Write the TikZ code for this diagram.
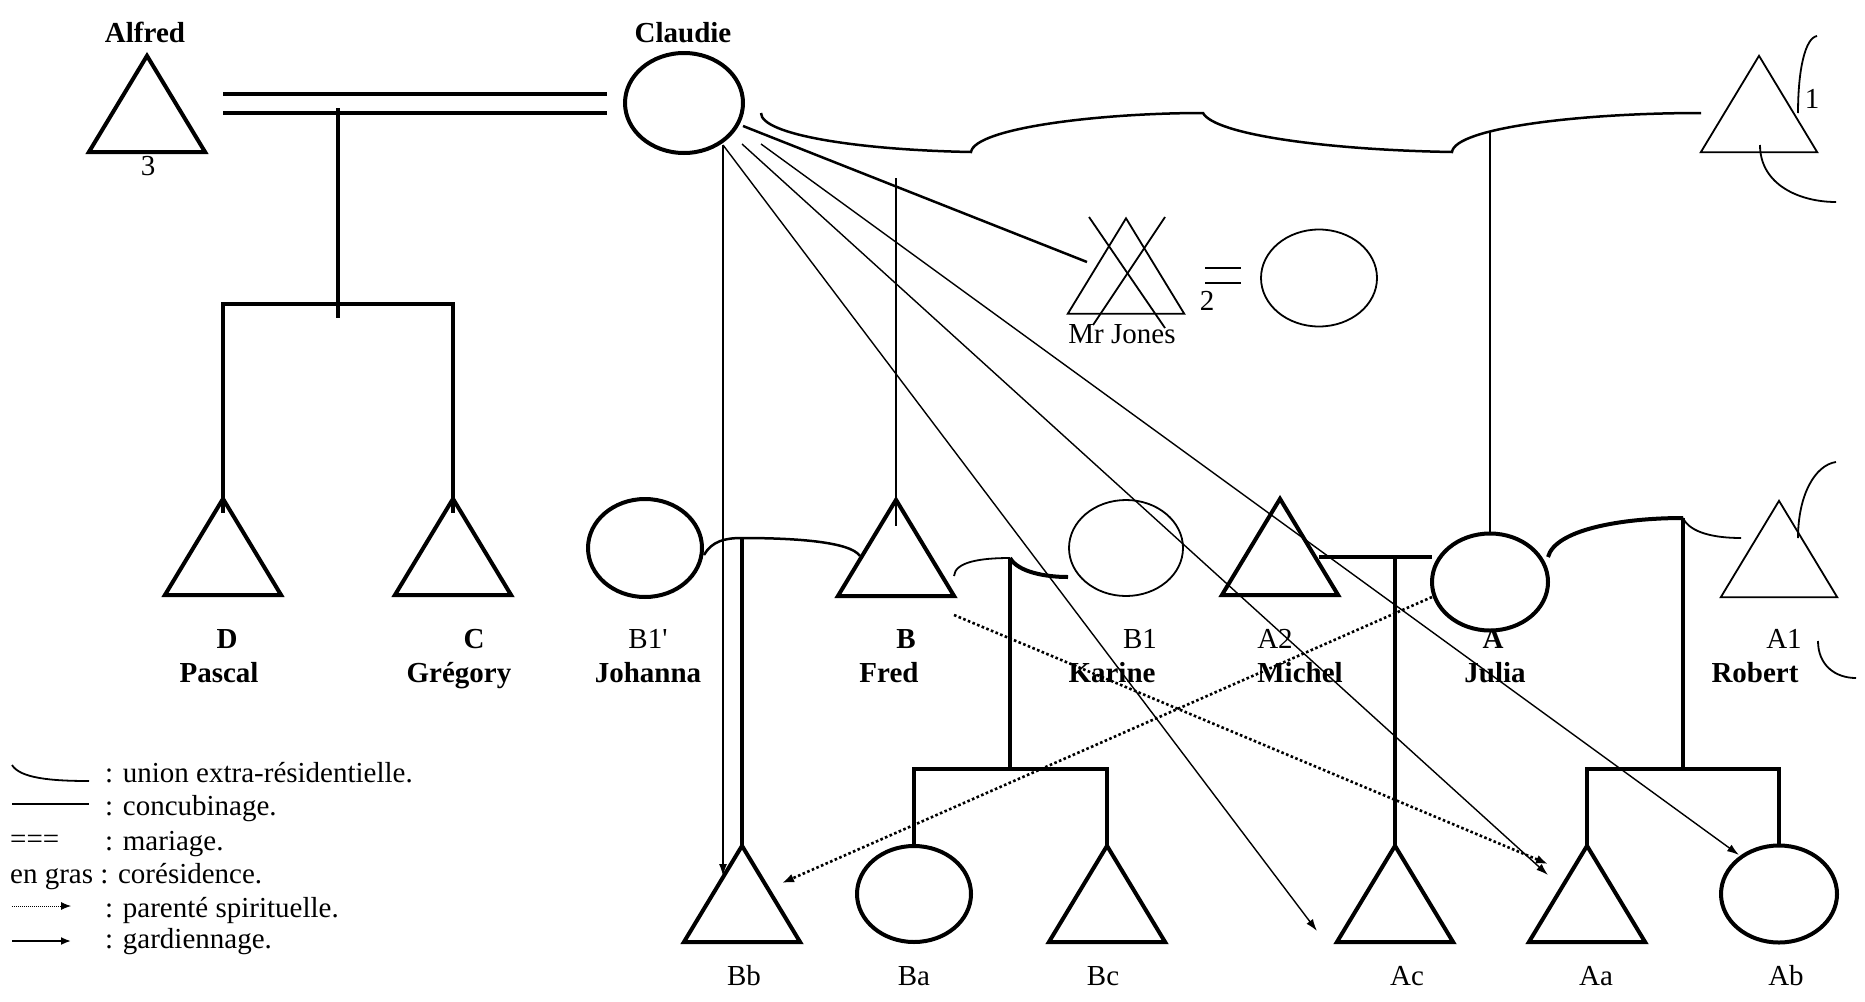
\documentclass[tikz,border=0pt]{standalone}
\usepackage{fontspec}
\setmainfont{Liberation Serif}
\usetikzlibrary{arrows.meta,shapes.geometric,calc}
\newcommand\mytri[2][thickln]{\draw[#1] (#2.north) -- (#2.south west) -- (#2.south east) -- cycle;}
\begin{document}
\begin{tikzpicture}[x=1pt,y=-1pt,line join=miter,
  thickln/.style={line width=4pt},
  thinln/.style={line width=1.8pt},
  medln/.style={line width=2.5pt},
  fineln/.style={line width=1.4pt},
  person/.style={ellipse, minimum width=116pt, minimum height=97pt, inner sep=0pt},
  tri/.style={rectangle, minimum width=116pt, minimum height=96pt, inner sep=0pt},
  lbl/.style={font=\fontsize{29}{34}\selectfont, anchor=base, inner sep=0pt},
  blbl/.style={font=\fontsize{29}{34}\selectfont\bfseries, anchor=base, inner sep=0pt},
  leg/.style={font=\fontsize{29}{34}\selectfont, anchor=base west, inner sep=0pt},
  garde/.style={fineln, -{Latex[length=12pt,width=8pt]}},
  spirit/.style={line width=2.6pt, dash pattern=on 2.6pt off 2.4pt, -{Latex[length=12pt,width=9pt]}},
]
\useasboundingbox (0,0) rectangle (1865,1001);

% ---------- top generation ----------
\node[tri] (alfred) at (147,104) {}; \mytri{alfred}
\node[blbl] (tAlfred) at (145,42) {Alfred};
\node[lbl] (t3) at (148,175) {3};
\node[person, draw, thickln, minimum width=118pt, minimum height=100pt] (claudie) at (684,103) {};
\node[blbl] (tClaudie) at (683,42) {Claudie};

\coordinate (mL1) at (223,94);  \coordinate (mR1) at (607,94);
\coordinate (mL2) at (223,113); \coordinate (mR2) at (607,113);
\draw[thickln] (mL1) -- (mR1);
\draw[thickln] (mL2) -- (mR2);
\coordinate (mTop) at (338,108); \coordinate (brDC) at (338,304); \coordinate (mBot) at (338,318);
\draw[thickln] (mTop) -- (mBot);

\node[tri] (D) at (223,547) {}; \mytri{D}
\node[tri] (C) at (453,547) {}; \mytri{C}
\draw[thickln] ($(D.north)+(0,14)$) |- (brDC) -| ($(C.north)+(0,14)$);

% top right person
\node[tri] (tr) at (1759,104) {}; \mytri[thinln]{tr}
\node[lbl] (t1) at (1812,108) {1};
\coordinate (trc1a) at (1798,113); \coordinate (trc1b) at (1817,36);
\draw[thinln] (trc1a) .. controls (1798,70) and (1805,38) .. (trc1b);
\coordinate (trc2a) at (1760,145); \coordinate (trc2b) at (1836,202);
\draw[thinln] (trc2a) .. controls (1760,185) and (1800,202) .. (trc2b);

% extra-residential union curve
\coordinate (er0) at (761,113); \coordinate (er1) at (971,152);
\coordinate (er2) at (1203,113); \coordinate (er3) at (1452,152);
\coordinate (er4) at (1701,113);
\draw[medln] (er0) .. controls (761,135) and (860,150) .. (er1)
  .. controls (975,128) and (1100,113) .. (er2)
  .. controls (1215,135) and (1330,150) .. (er3)
  .. controls (1455,128) and (1580,113) .. (er4);

% Mr Jones
\node[tri, minimum height=95pt] (jones) at (1126,266) {}; \mytri[thinln]{jones}
\node[lbl] (tJones) at (1122,343) {Mr Jones};
\node[lbl] (t2) at (1207,310) {2};
\coordinate (cj0) at (743,126); \coordinate (cj1) at (1087,262);
\draw[medln] (cj0) -- (cj1);
\coordinate (x1a) at (1089,217); \coordinate (x1b) at (1165,328);
\coordinate (x2a) at (1165,217); \coordinate (x2b) at (1093,325);
\draw[thinln] (x1a) -- (x1b);
\draw[thinln] (x2a) -- (x2b);
\node[person, draw, thinln] (wife) at (1319,278) {};
\coordinate (jm1a) at (1205,268); \coordinate (jm1b) at (1241,268);
\coordinate (jm2a) at (1205,283); \coordinate (jm2b) at (1241,283);
\draw[medln] (jm1a) -- (jm1b);
\draw[medln] (jm2a) -- (jm2b);

% ---------- second generation ----------
\node[person, draw, thickln, minimum width=114pt, minimum height=98pt] (johanna) at (645,548) {};
\node[tri] (fred) at (896,548) {}; \mytri{fred}
\node[person, draw, thinln, minimum width=114pt, minimum height=96pt] (karine) at (1126,548) {};
\node[tri] (michel) at (1280,547) {}; \mytri{michel}
\node[person, draw, thickln] (julia) at (1490,582) {};
\node[tri] (robert) at (1779,549) {}; \mytri[thinln]{robert}

\coordinate (fredtop) at (896,178);
\draw[thinln] (fredtop) -- ($(fred.north)+(0,26)$);
\coordinate (juliatop) at (1490,132);
\draw[thinln] (juliatop) -- (julia.north);

% Robert's other unions
\coordinate (rc1a) at (1798,538); \coordinate (rc1b) at (1836,462);
\draw[thinln] (rc1a) .. controls (1798,495) and (1815,465) .. (rc1b);
\coordinate (rc2a) at (1818,641); \coordinate (rc2b) at (1856,678);
\draw[thinln] (rc2a) .. controls (1818,665) and (1835,678) .. (rc2b);

% labels row
\node[blbl] (tD) at (227,648) {D};       \node[blbl] (tPascal) at (219,682) {Pascal};
\node[blbl] (tC) at (474,648) {C};       \node[blbl] (tGreg) at (459,682) {Grégory};
\node[lbl] (tB1p) at (648,648) {B1\textquotesingle}; \node[blbl] (tJoh) at (648,682) {Johanna};
\node[blbl] (tB) at (906,648) {B};       \node[blbl] (tFred) at (889,682) {Fred};
\node[lbl] (tB1) at (1140,648) {B1};     \node[blbl] (tKar) at (1112,682) {Karine};
\node[lbl] (tA2) at (1275,648) {A2};     \node[blbl] (tMich) at (1300,682) {Michel};
\node[blbl] (tA) at (1493,648) {A};      \node[blbl] (tJul) at (1495,682) {Julia};
\node[lbl] (tA1) at (1784,648) {A1};     \node[blbl] (tRob) at (1755,682) {Robert};

% ---------- children ----------
\node[tri] (Bb) at (742,894) {}; \mytri{Bb}
\node[person, draw, thickln, minimum width=114pt, minimum height=96pt] (Ba) at (914,894) {};
\node[tri] (Bc) at (1107,894) {}; \mytri{Bc}
\node[tri] (Ac) at (1395,894) {}; \mytri{Ac}
\node[tri] (Aa) at (1587,894) {}; \mytri{Aa}
\node[person, draw, thickln] (Ab) at (1779,894) {};

\node[lbl] (tBb) at (744,985) {Bb};
\node[lbl] (tBa) at (914,985) {Ba};
\node[lbl] (tBc) at (1103,985) {Bc};
\node[lbl] (tAc) at (1407,985) {Ac};
\node[lbl] (tAa) at (1596,985) {Aa};
\node[lbl] (tAb) at (1786,985) {Ab};

% Johanna - Fred union
\coordinate (jf0) at (704,555); \coordinate (jf1) at (742,538); \coordinate (jf2) at (860,556);
\draw[medln] (jf0) .. controls (712,541) and (725,538) .. (jf1)
  .. controls (790,538) and (850,541) .. (jf2);
\draw[thickln] (jf1) -- (Bb.north);

% Fred - Karine union
\coordinate (fk0) at (954,576); \coordinate (fk1) at (1010,558); \coordinate (fk2) at (1068,577);
\draw[thinln] (fk0) .. controls (955,562) and (980,558) .. (fk1);
\draw[thickln] (fk1) .. controls (1018,572) and (1045,577) .. (fk2);
\coordinate (brB) at (1010,769);
\draw[thickln] (fk1) -- (brB);
\draw[thickln] (Ba.north) |- (brB) -| (Bc.north);

% Michel - Julia union
\coordinate (mj0) at (1319,557); \coordinate (mj1) at (1432,557); \coordinate (mjc) at (1395,557);
\draw[thickln] (mj0) -- (mj1);
\draw[thickln] (mjc) -- (Ac.north);

% Julia - Robert union
\coordinate (jr0) at (1548,557); \coordinate (jr1) at (1683,518); \coordinate (jr2) at (1741,538);
\draw[thickln] (jr0) .. controls (1555,530) and (1620,518) .. (jr1);
\draw[thinln] (jr1) .. controls (1690,533) and (1715,538) .. (jr2);
\coordinate (brA) at (1683,769);
\draw[thickln] (jr1) -- (brA);
\draw[thickln] (Aa.north) |- (brA) -| (Ab.north);

% guardianship arrows from Claudie
\coordinate (g0) at (723,145); \coordinate (g1) at (742,144); \coordinate (g2) at (761,144);
\coordinate (gBb) at (723,876); \coordinate (gAc) at (1317,931);
\coordinate (gAa) at (1548,875); \coordinate (gAb) at (1739,855);
\draw[garde] (g0) -- (gBb);
\draw[garde] (g0) -- (gAc);
\draw[garde] (g1) -- (gAa);
\draw[garde] (g2) -- (gAb);

% spiritual kinship arrows
\coordinate (s0) at (954,615); \coordinate (s1) at (1548,864);
\coordinate (s2) at (1432,597); \coordinate (s3) at (782,883);
\draw[spirit] (s0) -- (s1);
\draw[spirit] (s2) -- (s3);

% ---------- legend ----------
\coordinate (lu0) at (12,765); \coordinate (lu1) at (89,781);
\draw[thinln] (lu0) .. controls (20,778) and (50,781) .. (lu1);
\node[leg] (legU) at (105,782) {: union extra-résidentielle.};
\coordinate (lc0) at (12,804); \coordinate (lc1) at (89,804);
\draw[medln] (lc0) -- (lc1);
\node[leg] (legC) at (105,815) {: concubinage.};
\node[leg] (legEq) at (10,848) {===};
\node[leg] (legM) at (105,850) {: mariage.};
\node[leg] (legG) at (10,883) {en gras : corésidence.};
\coordinate (ld0) at (12,906); \coordinate (ld1) at (71,906);
\draw[line width=0.8pt, dash pattern=on 0.8pt off 1.2pt, -{Latex[length=10pt,width=8pt]}] (ld0) -- (ld1);
\node[leg] (legS) at (105,917) {: parenté spirituelle.};
\coordinate (la0) at (12,941); \coordinate (la1) at (71,941);
\draw[line width=1.8pt, -{Latex[length=10pt,width=8pt]}] (la0) -- (la1);
\node[leg] (legA) at (105,948) {: gardiennage.};
\end{tikzpicture}
\end{document}
